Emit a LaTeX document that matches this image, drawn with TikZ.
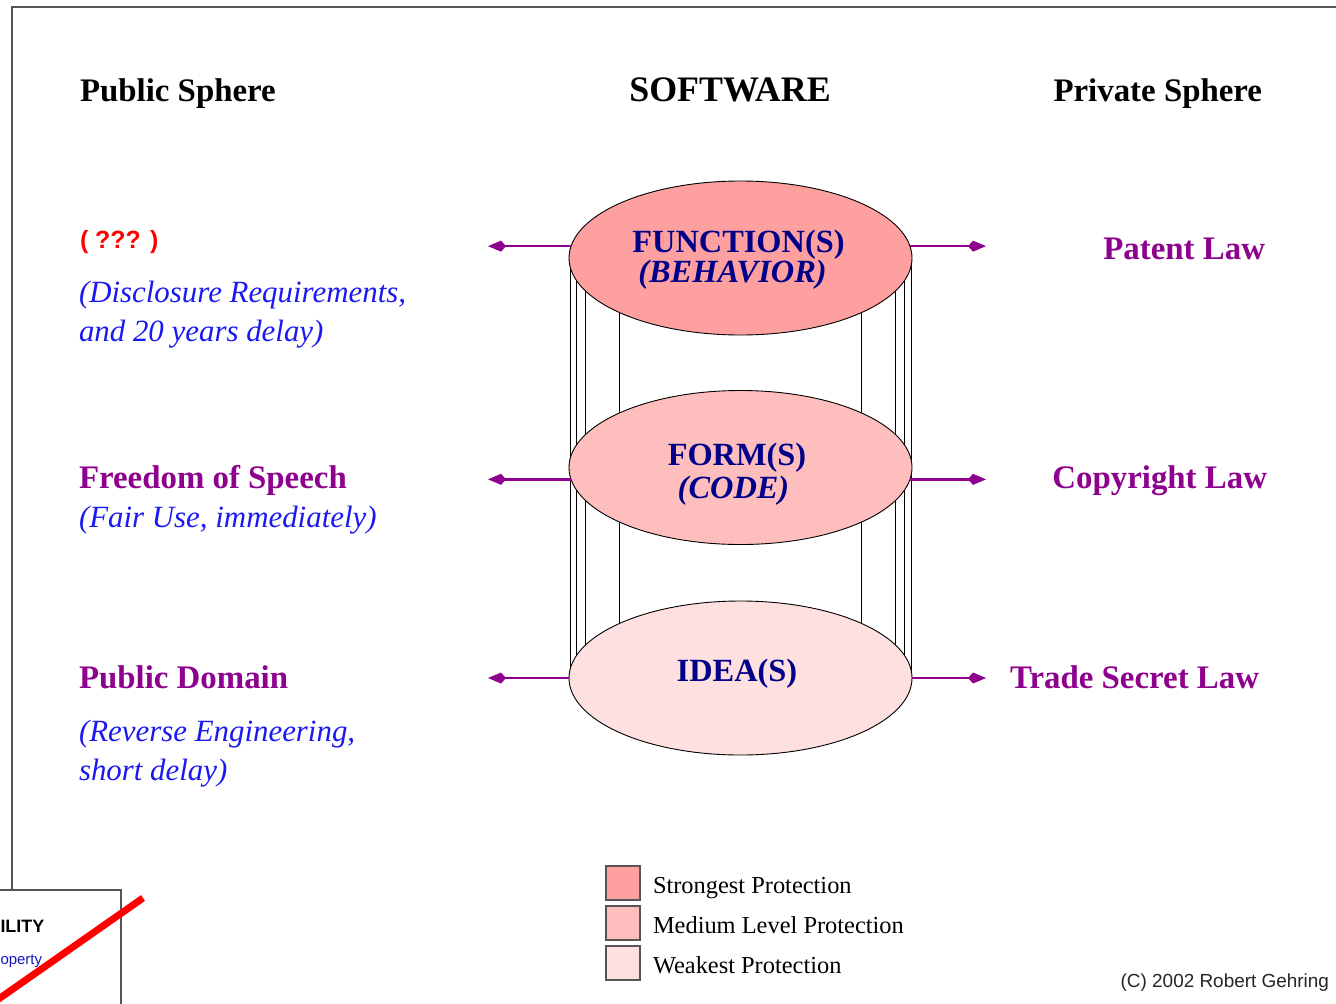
\documentclass[tikz,border=0pt]{standalone}
\usepackage{fontspec}
\setmainfont{Liberation Serif}
\newfontfamily\sansf{Liberation Sans}
\usetikzlibrary{shapes.geometric,arrows.meta}
\definecolor{fillA}{HTML}{FFA0A0}
\definecolor{fillB}{HTML}{FFBEBE}
\definecolor{fillC}{HTML}{FFE0E0}
\definecolor{navy}{HTML}{000088}
\definecolor{purp}{HTML}{8E008E}
\definecolor{iblue}{HTML}{1A1AF0}
\definecolor{frameg}{HTML}{555555}
\begin{document}
\begin{tikzpicture}[x=1bp,y=-1bp,
  every node/.style={inner sep=0,outer sep=0},
  hdr/.style={font=\fontsize{33}{36}\selectfont\bfseries,text=black},
  lab/.style={font=\fontsize{33}{36}\selectfont\bfseries,text=purp},
  note/.style={font=\fontsize{31}{34}\selectfont\itshape,text=iblue},
  inner/.style={font=\fontsize{32.5}{36}\selectfont\bfseries,text=navy},
  innerit/.style={font=\fontsize{32.5}{36}\selectfont\bfseries\itshape,text=navy},
  legtxt/.style={font=\fontsize{24.5}{28}\selectfont,text=black},
  layer/.style={ellipse,draw=black,line width=0.9bp,minimum width=343bp,minimum height=154bp},
  legbox/.style={draw=frameg,line width=1.4bp,minimum width=34bp,minimum height=34bp},
  arr/.style={draw=purp,line width=2.6bp,-{Kite[length=18bp,width=11bp,inset=5bp]}},
  cyl/.style={draw=black,line width=0.9bp},
  frame/.style={draw=frameg,line width=1.3bp}
]
\useasboundingbox (0,0) rectangle (1336,1003);
\fill[white] (0,0) rectangle (1336,1003);
% frame
\draw[frame] (12,890) -- (12,7) -- (1340,7);
\draw[frame] (-2,890) rectangle (121,1010);
\node[anchor=base west,font=\sansf\fontsize{18}{22}\selectfont\bfseries] (ility) at (0.5,932) {ILITY};
\node[anchor=base west,font=\sansf\fontsize{15}{18}\selectfont,text=iblue!80!black] (prop) at (0.5,964) {operty};
\draw[red,line width=7bp] (-12,1006.4) -- (143,898);

% headers
\node[hdr,anchor=base west] (pub) at (80,101) {Public Sphere};
\node[hdr,anchor=base,font=\fontsize{36}{40}\selectfont\bfseries] (sw) at (730,101) {SOFTWARE};
\node[hdr,anchor=base east] (priv) at (1262,101) {Private Sphere};

% cylinder sides
\foreach \xx in {570,576,585,619,861.5,895,904,911}
  \draw[cyl] (\xx,258) -- (\xx,678);

% layers
\node[layer,fill=fillA] (fn) at (740.5,258) {};
\node[layer,fill=fillB] (fm) at (740.5,467.5) {};
\node[layer,fill=fillC] (id) at (740.5,678) {};

\node[inner,anchor=base] (fnt) at (738.5,252) {FUNCTION(S)};
\node[innerit,anchor=base] (fnb) at (732.5,282) {(BEHAVIOR)};
\node[inner,anchor=base] (fmt) at (737,465) {FORM(S)};
\node[innerit,anchor=base] (fmb) at (733.5,498) {(CODE)};
\node[inner,anchor=base] (idt) at (737,681) {IDEA(S)};

% arrow end points
\coordinate (L) at (488,0);
\coordinate (R) at (986,0);
\draw[arr] (fn.176) -- (fn.176 -| L);
\draw[arr] (fn.4) -- (fn.4 -| R);
\draw[arr] (fm.184) -- (fm.184 -| L);
\draw[arr] (fm.356) -- (fm.356 -| R);
\draw[arr] (id.180) -- (id.180 -| L);
\draw[arr] (id.0) -- (id.0 -| R);

% left texts
\node[anchor=base west,font=\sansf\fontsize{25}{30}\selectfont\bfseries,text=red] (q) at (80,248) {( ??? )};
\node[note,anchor=base west] (d1) at (79,302) {(Disclosure Requirements,};
\node[note,anchor=base west] (d2) at (79,341) {and 20 years delay)};
\node[lab,anchor=base west] (fs) at (79,488) {Freedom of Speech};
\node[note,anchor=base west] (fu) at (79,527) {(Fair Use, immediately)};
\node[lab,anchor=base west] (pd) at (79,688) {Public Domain};
\node[note,anchor=base west] (r1) at (79,741) {(Reverse Engineering,};
\node[note,anchor=base west] (r2) at (79,780) {short delay)};

% right texts
\node[lab,anchor=base east] (pl) at (1265,259) {Patent Law};
\node[lab,anchor=base east] (cl) at (1267,488) {Copyright Law};
\node[lab,anchor=base east] (tl) at (1259,688) {Trade Secret Law};

% legend
\node[legbox,fill=fillA] (k1) at (623,883) {};
\node[legbox,fill=fillB] (k2) at (623,923) {};
\node[legbox,fill=fillC] (k3) at (623,963) {};
\node[legtxt,anchor=base west] (t1) at (653,893) {Strongest Protection};
\node[legtxt,anchor=base west] (t2) at (653,933) {Medium Level Protection};
\node[legtxt,anchor=base west] (t3) at (653,973) {Weakest Protection};

\node[anchor=base east,font=\sansf\fontsize{19}{22}\selectfont,text=black!85] (copy) at (1329,987) {(C) 2002 Robert Gehring};
\end{tikzpicture}
\end{document}
